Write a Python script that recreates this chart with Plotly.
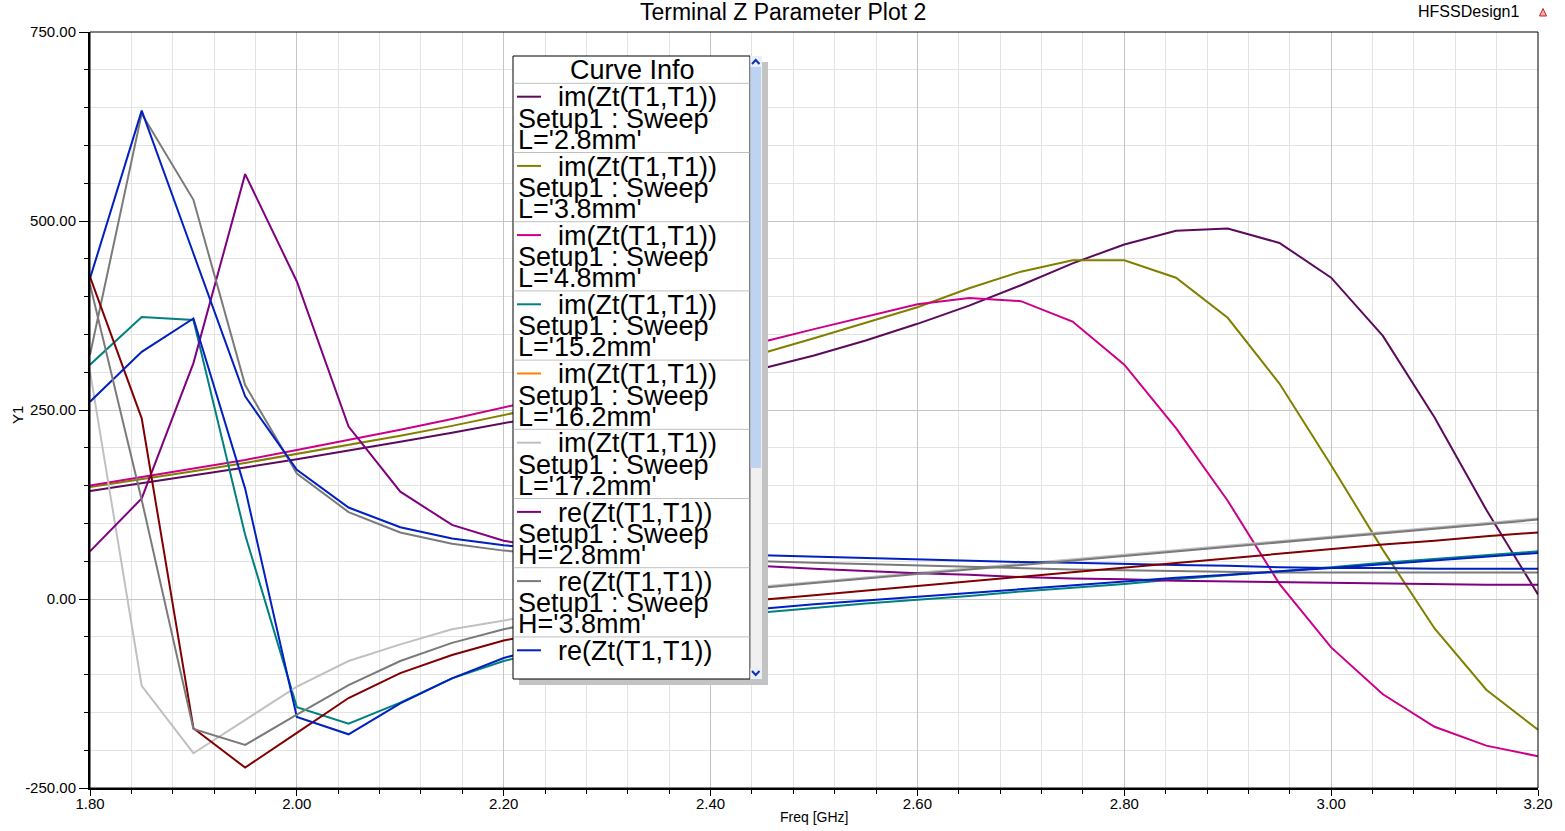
import plotly.graph_objects as go

# ---------------- data ----------------
freq = [1.80, 1.85, 1.90, 1.95, 2.00, 2.05, 2.10, 2.15, 2.20, 2.25, 2.30, 2.35, 2.40, 2.45,
        2.50, 2.55, 2.60, 2.65, 2.70, 2.75, 2.80, 2.85, 2.90, 2.95, 3.00, 3.05, 3.10, 3.15, 3.20]

im_L28 = [143, 153, 163, 174, 185, 196, 208, 220, 232, 245, 259, 273, 288, 305, 322, 342, 364, 388,
          415, 444, 469, 487, 490, 471, 425, 348, 240, 118, 6]
im_L38 = [148, 158, 169, 180, 192, 204, 216, 229, 243, 257, 272, 288, 306, 325, 345, 366, 386, 411,
          433, 448, 448, 425, 372, 285, 177, 65, -39, -120, -173]
im_L48 = [150, 161, 172, 184, 197, 210, 224, 238, 253, 268, 284, 301, 320, 340, 357, 374, 390, 398,
          394, 367, 310, 226, 130, 20, -64, -126, -169, -194, -208]
im_L152 = [310, 373, 369, 85, -143, -165, -137, -105, -82, -65, -50, -38, -27, -18, -12, -6, -1, 4,
           10, 15, 20, 26, 31, 36, 42, 48, 53, 58, 63]
im_L172 = [301, -115, -204, -160, -116, -82, -60, -40, -28, -17, -8, 0, 8, 16.5, 22.5, 28.5, 34.5,
           40.5, 46.5, 52.5, 58.5, 64.5, 70.5, 76.5, 82.5, 88.5, 94.5, 100.5, 106.5]
re_H28 = [63, 133, 312, 562, 420, 228, 142, 98, 77, 66, 58, 52, 47, 43, 40, 37, 34, 32, 29, 27, 26,
          24, 23, 22, 21, 20, 20, 19, 19]
re_H38 = [323, 642, 528, 283, 166, 115, 88, 73, 64, 59, 56, 53, 51, 50, 48, 46, 44, 42, 40, 39, 38,
          37, 36, 35, 35, 35, 35, 35, 35]
re_blue = [424, 646, 457, 268, 171, 121, 95, 80, 71, 66, 63, 61, 59, 58, 56, 55, 53, 51, 49, 48, 46,
           45, 44, 42, 41, 41, 40, 40, 40]
im_darkred = [426, 239, -171, -223, -177, -131, -98, -74, -55, -41, -29, -19, -10, -1, 5, 11, 17, 23,
              29, 35, 41, 48, 54, 60, 66, 72, 77, 83, 88]
im_blue = [261, 327, 371, 146, -156, -179, -138, -105, -78, -60, -45, -33, -22, -13, -7, -2, 3, 8, 13,
           18, 23, 28, 32, 36, 41, 46, 51, 56, 61]
im_gray = [416, 131, -172, -193, -153, -114, -82, -58, -40, -26, -13, -2, 7, 15, 21, 27, 33, 39, 45,
           51, 57, 63, 69, 75, 81, 87, 93, 99, 105]

x_tickvals = [1.80, 2.00, 2.20, 2.40, 2.60, 2.80, 3.00, 3.20]
x_ticktext = ["1.80", "2.00", "2.20", "2.40", "2.60", "2.80", "3.00", "3.20"]
y_tickvals = [-250, 0, 250, 500, 750]
y_ticktext = ["-250.00", "0.00", "250.00", "500.00", "750.00"]

legend_lines = [
    ("im(Zt(T1,T1))", "Setup1 : Sweep", "L='2.8mm'"),
    ("im(Zt(T1,T1))", "Setup1 : Sweep", "L='3.8mm'"),
    ("im(Zt(T1,T1))", "Setup1 : Sweep", "L='4.8mm'"),
    ("im(Zt(T1,T1))", "Setup1 : Sweep", "L='15.2mm'"),
    ("im(Zt(T1,T1))", "Setup1 : Sweep", "L='16.2mm'"),
    ("im(Zt(T1,T1))", "Setup1 : Sweep", "L='17.2mm'"),
    ("re(Zt(T1,T1))", "Setup1 : Sweep", "H='2.8mm'"),
    ("re(Zt(T1,T1))", "Setup1 : Sweep", "H='3.8mm'"),
    ("re(Zt(T1,T1))", "", ""),
]
legend_colors = ["#5c0a5c", "#808000", "#cc0088", "#008080", "#ff8000", "#c0c0c0",
                 "#800080", "#7a7a7a", "#0020c0"]

# ---------------- figure ----------------
W, H = 1565, 831
ML, MR, MT, MB = 90, 27, 32, 43
PW = W - ML - MR
PH = H - MT - MB


def px(x):
    return (x - ML) / PW


def py(y):
    return (H - MB - y) / PH


series = [
    ("im(Zt(T1,T1)) L='2.8mm'", im_L28, "#5c0a5c"),
    ("im(Zt(T1,T1)) L='3.8mm'", im_L38, "#808000"),
    ("im(Zt(T1,T1)) L='4.8mm'", im_L48, "#cc0088"),
    ("im(Zt(T1,T1)) L='15.2mm'", im_L152, "#008080"),
    ("im(Zt(T1,T1)) L='17.2mm'", im_L172, "#c0c0c0"),
    ("re(Zt(T1,T1)) H='2.8mm'", re_H28, "#800080"),
    ("re(Zt(T1,T1)) H='3.8mm'", re_H38, "#7a7a7a"),
    ("re(Zt(T1,T1)) blue", re_blue, "#0020c0"),
    ("im(Zt(T1,T1)) dark red", im_darkred, "#800000"),
    ("im(Zt(T1,T1)) blue", im_blue, "#0020c0"),
    ("im(Zt(T1,T1)) gray", im_gray, "#7a7a7a"),
]

fig = go.Figure()
for name, vals, col in series:
    fig.add_trace(go.Scatter(x=freq, y=vals, mode="lines", name=name,
                             line=dict(color=col, width=2), showlegend=False,
                             hoverinfo="x+y+name"))

FONT = "Liberation Sans, Arial, sans-serif"

shapes = []
annotations = []

# plot frame (top/right thin)
shapes.append(dict(type="rect", xref="paper", yref="paper", x0=0, x1=1, y0=0, y1=1,
                   line=dict(color="black", width=1), layer="above"))

# legend shadow
shapes.append(dict(type="rect", xref="paper", yref="paper", x0=px(519), x1=px(768),
                   y0=py(685), y1=py(62), fillcolor="#c3c3c3", line=dict(width=0), layer="above"))
# legend box
shapes.append(dict(type="rect", xref="paper", yref="paper", x0=px(513), x1=px(750),
                   y0=py(679), y1=py(56), fillcolor="white", line=dict(color="black", width=1),
                   layer="above"))
# scrollbar track
shapes.append(dict(type="rect", xref="paper", yref="paper", x0=px(750.5), x1=px(762),
                   y0=py(679), y1=py(56), fillcolor="#f0f0f0", line=dict(width=0), layer="above"))
# scrollbar thumb
shapes.append(dict(type="rect", xref="paper", yref="paper", x0=px(750.5), x1=px(761),
                   y0=py(468), y1=py(67), fillcolor="#bdd3f1", line=dict(width=0), layer="above"))
# up button
shapes.append(dict(type="rect", xref="paper", yref="paper", x0=px(750.5), x1=px(761),
                   y0=py(67), y1=py(56), fillcolor="#e8f0fb", line=dict(width=0), layer="above"))
# down button
shapes.append(dict(type="rect", xref="paper", yref="paper", x0=px(750.5), x1=px(761),
                   y0=py(679), y1=py(668), fillcolor="#e8f0fb", line=dict(width=0), layer="above"))
# chevrons
shapes.append(dict(type="path", xref="paper", yref="paper",
                   path=f"M {px(752)},{py(64)} L {px(755.7)},{py(60)} L {px(759.5)},{py(64)}",
                   line=dict(color="#1030b0", width=2), layer="above"))
shapes.append(dict(type="path", xref="paper", yref="paper",
                   path=f"M {px(752)},{py(671)} L {px(755.7)},{py(675)} L {px(759.5)},{py(671)}",
                   line=dict(color="#1030b0", width=2), layer="above"))

annotations.append(dict(text="Curve Info", x=px(632), y=py(70), xref="paper", yref="paper",
                        showarrow=False, xanchor="center", yanchor="middle",
                        font=dict(family=FONT, size=27, color="black")))

ROW0, ROWH = 83.3, 69.2
for k, (lines, col) in enumerate(zip(legend_lines, legend_colors)):
    r = ROW0 + ROWH * k
    shapes.append(dict(type="line", xref="paper", yref="paper", x0=px(513.5), x1=px(749.5),
                       y0=py(r), y1=py(r), line=dict(color="#c0c0c0", width=1), layer="above"))
    shapes.append(dict(type="line", xref="paper", yref="paper", x0=px(517), x1=px(541),
                       y0=py(r + 13.4), y1=py(r + 13.4), line=dict(color=col, width=2),
                       layer="above"))
    l1, l2, l3 = lines
    annotations.append(dict(text=l1, x=px(556), y=py(r + 14), xref="paper", yref="paper",
                            showarrow=False, xanchor="left", yanchor="middle",
                            font=dict(family=FONT, size=27, color="black")))
    if l2:
        annotations.append(dict(text=l2, x=px(515.5), y=py(r + 35.5), xref="paper", yref="paper",
                                showarrow=False, xanchor="left", yanchor="middle",
                                font=dict(family=FONT, size=27, color="black")))
    if l3:
        annotations.append(dict(text=l3, x=px(515.5), y=py(r + 56.5), xref="paper", yref="paper",
                                showarrow=False, xanchor="left", yanchor="middle",
                                font=dict(family=FONT, size=27, color="black")))

# titles
annotations.append(dict(text="Terminal Z Parameter Plot 2", x=px(782.5), y=py(12), xref="paper",
                        yref="paper", showarrow=False, xanchor="center", yanchor="middle",
                        font=dict(family=FONT, size=23, color="black")))
annotations.append(dict(text="HFSSDesign1", x=px(1468), y=py(12), xref="paper", yref="paper",
                        showarrow=False, xanchor="center", yanchor="middle",
                        font=dict(family=FONT, size=16, color="black")))
annotations.append(dict(text="Freq [GHz]", x=px(814), y=py(817), xref="paper", yref="paper",
                        showarrow=False, xanchor="center", yanchor="middle",
                        font=dict(family=FONT, size=14, color="black")))
annotations.append(dict(text="Y1", x=px(17), y=py(415), xref="paper", yref="paper",
                        showarrow=False, xanchor="center", yanchor="middle", textangle=-90,
                        font=dict(family=FONT, size=15, color="black")))
# small logo
shapes.append(dict(type="path", xref="paper", yref="paper",
                   path=f"M {px(1539.5)},{py(16)} L {px(1543)},{py(8.5)} L {px(1546.5)},{py(16)} Z",
                   line=dict(color="#d02020", width=1), fillcolor="#f0b0b0", layer="above"))

fig.update_layout(
    width=W, height=H, autosize=False,
    margin=dict(l=ML, r=MR, t=MT, b=MB, pad=0),
    paper_bgcolor="white", plot_bgcolor="white",
    font=dict(family=FONT, size=15, color="black"),
    showlegend=False,
    shapes=shapes, annotations=annotations,
    xaxis=dict(range=[1.8, 3.2], tickmode="array", tickvals=x_tickvals, ticktext=x_ticktext,
               showline=True, linecolor="black", linewidth=2, mirror=False,
               ticks="outside", ticklen=6, tickwidth=1, tickcolor="black",
               ticklabelstandoff=-5,
               showgrid=True, gridcolor="#c4c4c4", gridwidth=1, zeroline=False,
               tickfont=dict(family=FONT, size=15, color="black"),
               minor=dict(tickmode="linear", tick0=1.8, dtick=0.04, ticks="outside", ticklen=4,
                          tickcolor="black", showgrid=True, gridcolor="#e3e3e3", gridwidth=1)),
    yaxis=dict(range=[-250, 750], tickmode="array", tickvals=y_tickvals, ticktext=y_ticktext,
               showline=True, linecolor="black", linewidth=2, mirror=False,
               ticks="outside", ticklen=9, tickwidth=1, tickcolor="black",
               showgrid=True, gridcolor="#c4c4c4", gridwidth=1, zeroline=False,
               tickfont=dict(family=FONT, size=15, color="black"),
               minor=dict(tickmode="linear", tick0=0, dtick=50, ticks="outside", ticklen=4,
                          tickcolor="black", showgrid=True, gridcolor="#e3e3e3", gridwidth=1)),
)

fig.write_html("out.html", include_plotlyjs=True, config={"displayModeBar": False},
               post_script="document.body.style.margin='0';document.body.style.overflow='hidden';")
